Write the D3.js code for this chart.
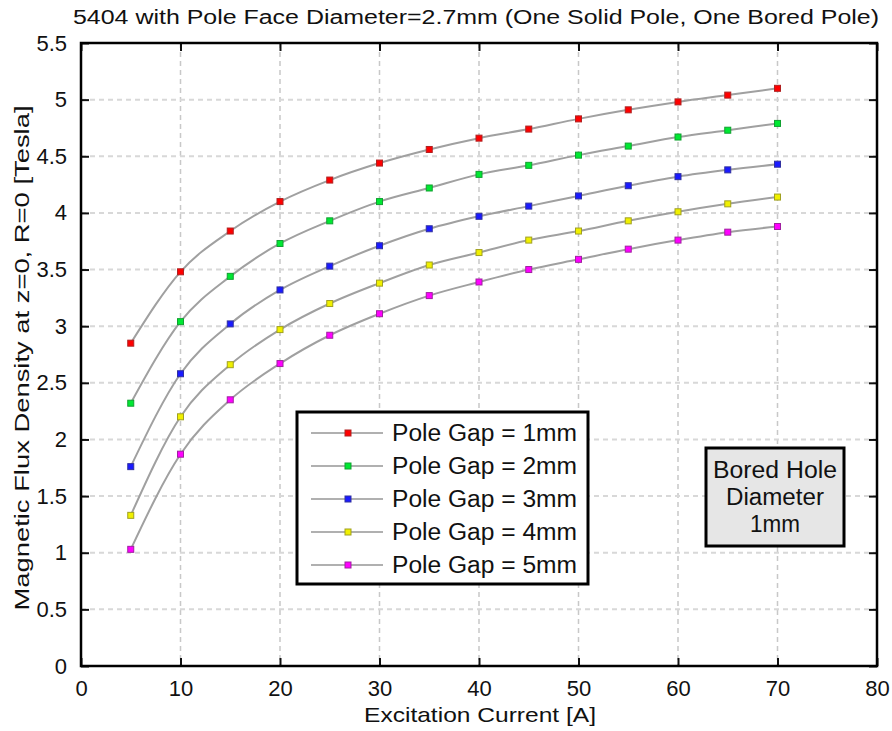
<!DOCTYPE html>
<html><head><meta charset="utf-8">
<script src="https://cdn.jsdelivr.net/npm/d3@7"></script>
<style>
body{margin:0;background:#fff;}
svg text{font-family:"Liberation Sans Narrow","Arial Narrow","Liberation Sans",Arial,sans-serif;fill:#111;}
</style></head>
<body><svg id="c" width="892" height="731"></svg>
<script>
const current = [5,10,15,20,25,30,35,40,45,50,55,60,65,70];
const gap1 = [2.85,3.48,3.84,4.10,4.29,4.44,4.56,4.66,4.74,4.83,4.91,4.98,5.04,5.10];
const gap2 = [2.32,3.04,3.44,3.73,3.93,4.10,4.22,4.34,4.42,4.51,4.59,4.67,4.73,4.79];
const gap3 = [1.76,2.58,3.02,3.32,3.53,3.71,3.86,3.97,4.06,4.15,4.24,4.32,4.38,4.43];
const gap4 = [1.33,2.20,2.66,2.97,3.20,3.38,3.54,3.65,3.76,3.84,3.93,4.01,4.08,4.14];
const gap5 = [1.03,1.87,2.35,2.67,2.92,3.11,3.27,3.39,3.50,3.59,3.68,3.76,3.83,3.88];
const seriesNames = ["Pole Gap = 1mm","Pole Gap = 2mm","Pole Gap = 3mm","Pole Gap = 4mm","Pole Gap = 5mm"];
const seriesColors = ["#ff0000","#00e832","#1a1aff","#f0f000","#ff00ff"];
const markerEdges = ["#b02020","#10a030","#3030a0","#a0a020","#a020a0"];
const xTicks = [0,10,20,30,40,50,60,70,80];
const yTicks = [0,0.5,1,1.5,2,2.5,3,3.5,4,4.5,5,5.5];
const noteLines = ["Bored Hole","Diameter","1mm"];
const noteWidths = [124,98,50];
const allSeries = [gap1,gap2,gap3,gap4,gap5];

const svg = d3.select("#c");
const L=81, R=877, T=43, B=666;
const x = d3.scaleLinear().domain([0,80]).range([L,R]);
const y = d3.scaleLinear().domain([0,5.5]).range([B,T]);

// grid
const grid = svg.append("g");
grid.selectAll("line.v").data(xTicks.slice(1,-1)).enter().append("line")
  .attr("x1",d=>x(d)).attr("x2",d=>x(d)).attr("y1",T).attr("y2",B)
  .attr("stroke","#c8c8c8").attr("stroke-width",1.5).attr("stroke-dasharray","5,4");
grid.selectAll("line.h").data(yTicks.slice(1,-1)).enter().append("line")
  .attr("y1",d=>y(d)).attr("y2",d=>y(d)).attr("x1",L).attr("x2",R)
  .attr("stroke","#d8d8d8").attr("stroke-width",2).attr("stroke-dasharray","5,4");

// axes with inward ticks
const fmt = d=>String(d);
svg.append("g").attr("transform",`translate(0,${B})`).call(d3.axisBottom(x).tickValues(xTicks).tickSize(-8).tickPadding(14).tickFormat(fmt))
  .call(g=>{g.select(".domain").remove();g.selectAll("text").attr("font-size",22).attr("fill","#111").attr("font-family",null);g.selectAll("line").attr("stroke","#111").attr("stroke-width",2);});
svg.append("g").attr("transform",`translate(0,${T})`).call(d3.axisTop(x).tickValues(xTicks).tickSize(-8).tickFormat(""))
  .call(g=>{g.select(".domain").remove();g.selectAll("line").attr("stroke","#111").attr("stroke-width",2);});
svg.append("g").attr("transform",`translate(${L},0)`).call(d3.axisLeft(y).tickValues(yTicks).tickSize(-8).tickPadding(14).tickFormat(fmt))
  .call(g=>{g.select(".domain").remove();g.selectAll("text").attr("font-size",22).attr("fill","#111").attr("font-family",null);g.selectAll("line").attr("stroke","#111").attr("stroke-width",2);});
svg.append("g").attr("transform",`translate(${R},0)`).call(d3.axisRight(y).tickValues(yTicks).tickSize(-8).tickFormat(""))
  .call(g=>{g.select(".domain").remove();g.selectAll("line").attr("stroke","#111").attr("stroke-width",2);});

svg.append("rect").attr("x",L).attr("y",T).attr("width",R-L).attr("height",B-T)
  .attr("fill","none").attr("stroke","#000").attr("stroke-width",2.5);

// lines
const line = d3.line().x((d,i)=>x(current[i])).y(d=>y(d)).curve(d3.curveMonotoneX);
allSeries.forEach((s,k)=>{
  svg.append("path").attr("d",line(s)).attr("fill","none").attr("stroke","#a0a0a0").attr("stroke-width",2);
});
allSeries.forEach((s,k)=>{
  svg.append("g").selectAll("rect").data(s).enter().append("rect")
    .attr("x",(d,i)=>x(current[i])-3).attr("y",d=>y(d)-3).attr("width",6).attr("height",6)
    .attr("fill",seriesColors[k]).attr("stroke",markerEdges[k]).attr("stroke-width",1);
});

// legend
const lg = svg.append("g");
lg.append("rect").attr("x",297).attr("y",412).attr("width",291).attr("height",172)
  .attr("fill","#fff").attr("stroke","#000").attr("stroke-width",3);
seriesNames.forEach((n,k)=>{
  const yy = 433 + k*33;
  lg.append("line").attr("x1",311).attr("x2",383).attr("y1",yy).attr("y2",yy).attr("stroke","#b0b0b0").attr("stroke-width",2);
  lg.append("rect").attr("x",345).attr("y",yy-3).attr("width",6).attr("height",6).attr("fill",seriesColors[k]).attr("stroke",markerEdges[k]).attr("stroke-width",1);
  lg.append("text").attr("x",392).attr("y",yy+8).attr("font-size",23).attr("textLength",185).attr("lengthAdjust","spacingAndGlyphs").text(n);
});

// note box
const nb = svg.append("g");
nb.append("rect").attr("x",706).attr("y",448).attr("width",138).attr("height",98)
  .attr("fill","#e6e6e6").attr("stroke","#000").attr("stroke-width",3);
noteLines.forEach((t,i)=>{
  nb.append("text").attr("x",775).attr("y",478+i*27).attr("text-anchor","middle").attr("font-size",23)
    .attr("textLength",noteWidths[i]).attr("lengthAdjust","spacingAndGlyphs").text(t);
});

// titles
svg.append("text").attr("x",476).attr("y",24).attr("text-anchor","middle").attr("font-size",20)
  .attr("textLength",806).attr("lengthAdjust","spacingAndGlyphs")
  .text("5404 with Pole Face Diameter=2.7mm (One Solid Pole, One Bored Pole)");
svg.append("text").attr("x",480).attr("y",722).attr("text-anchor","middle").attr("font-size",21)
  .attr("textLength",232).attr("lengthAdjust","spacingAndGlyphs").text("Excitation Current [A]");
svg.append("text").attr("transform","translate(29,358) rotate(-90)").attr("text-anchor","middle").attr("font-size",21)
  .attr("textLength",505).attr("lengthAdjust","spacingAndGlyphs").text("Magnetic Flux Density at z=0, R=0 [Tesla]");
</script></body></html>
